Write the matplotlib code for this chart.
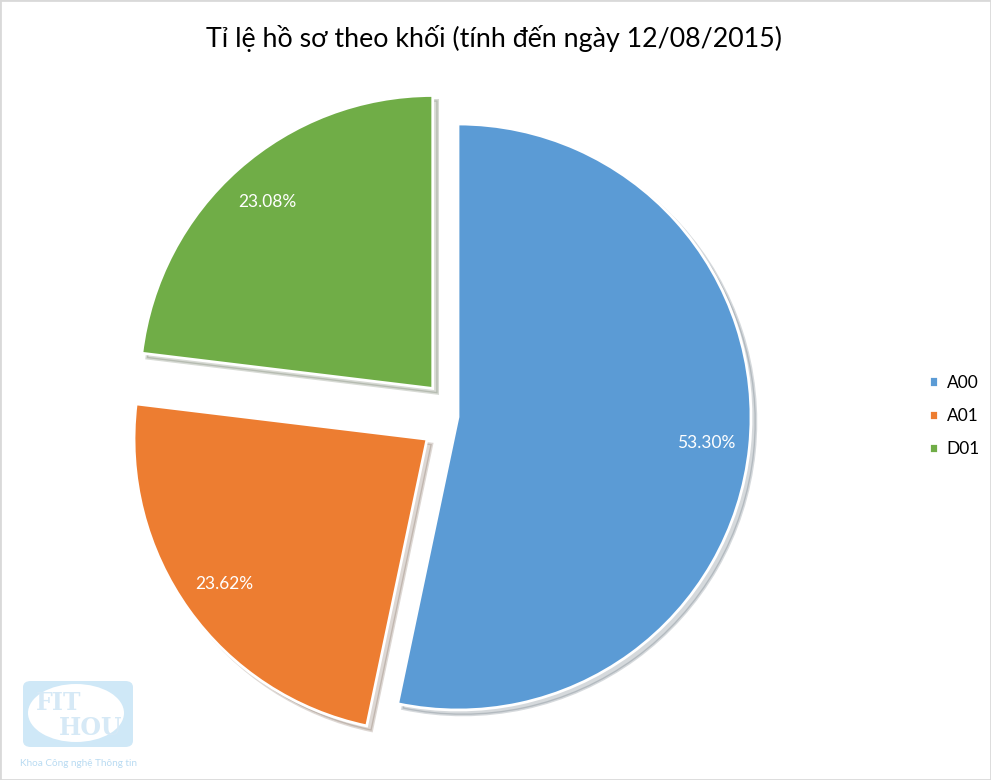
import matplotlib.pyplot as plt
from matplotlib.patches import FancyBboxPatch, Ellipse, Rectangle

# data
labels = ["A00", "A01", "D01"]
values = [53.30, 23.62, 23.08]
colors = ["#5B9BD5", "#ED7D31", "#70AD47"]
explode = [0, 0.13, 0.13]
title = "Tỉ lệ hồ sơ theo khối (tính đến ngày 12/08/2015)"

plt.rcParams['font.family'] = ['Lato', 'DejaVu Sans']

W, H = 991, 780
fig = plt.figure(figsize=(W / 100, H / 100), dpi=100)

# pie axes: center at (458, 417) px, radius 293 px
cx, cy, r = 458, 417, 293
lim = 1.3
size = 2 * lim * r
ax = fig.add_axes([(cx - size / 2) / W, (H - cy - size / 2) / H, size / W, size / H])

wedges, texts, autotexts = ax.pie(
    values, colors=colors, explode=explode, startangle=90, counterclock=False,
    autopct="%.2f%%", pctdistance=0.85,
    wedgeprops=dict(edgecolor="white", linewidth=2),
    shadow=dict(ox=0.012, oy=-0.012, alpha=0.18),
    textprops=dict(color="white", fontsize=12.5),
)
ax.set_xlim(-lim, lim)
ax.set_ylim(-lim, lim)
ax.set_aspect("equal")
ax.axis("off")

fig.text(494 / W, 1 - 38 / H, title, ha="center", va="center", fontsize=19.3, color="#000000")

fig.legend(wedges, labels, loc="center left", bbox_to_anchor=(913 / W, 1 - 416 / H),
           frameon=False, fontsize=12.5, handlelength=0.55, handleheight=0.55,
           handletextpad=0.5, labelspacing=1.0)

# logo watermark
fig.add_artist(FancyBboxPatch((23 / W, 1 - 747 / H), 110 / W, 66 / H,
                              boxstyle="round,pad=0,rounding_size=0.008",
                              transform=fig.transFigure, fc="#CFE8F7", ec="none"))
fig.add_artist(Ellipse((76 / W, 1 - 713 / H), 96 / W, 58 / H,
                       transform=fig.transFigure, fc="white", ec="none"))
fig.text(59 / W, 1 - 703 / H, "FIT", family="DejaVu Serif", weight="bold",
         fontsize=17, color="#D6E9F6", ha="center", va="center")
fig.text(91 / W, 1 - 728 / H, "HOU", family="DejaVu Serif", weight="bold",
         fontsize=17, color="#D6E9F6", ha="center", va="center")
fig.text(78 / W, 1 - 763 / H, "Khoa Công nghệ Thông tin", fontsize=7.2,
         color="#B9DBF2", ha="center", va="center")

# light border
fig.add_artist(Rectangle((0, 0), 1, 1, transform=fig.transFigure, fill=False,
                         ec="#D9D9D9", lw=2))

fig.savefig("out.png", dpi=100)
